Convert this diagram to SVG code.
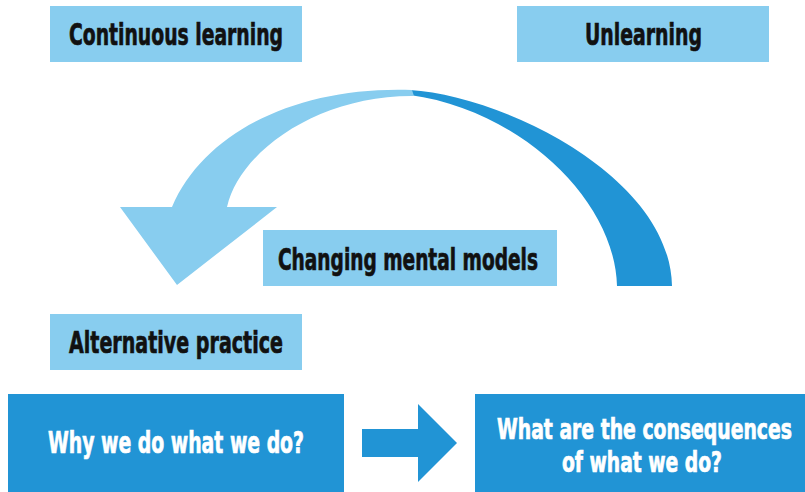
<svg xmlns="http://www.w3.org/2000/svg" width="805" height="492" viewBox="0 0 805 492">
<style>
.lb{fill:#88CDEF}
.db{fill:#2194D5}
.t{font-family:"Liberation Sans Narrow","DejaVu Sans Condensed","Liberation Sans",sans-serif;font-weight:bold;font-size:31px;font-stretch:condensed;stroke-width:0.7}
.s{font-size:28px}
.k{fill:#111111;stroke:#111111}
.w{fill:#FFFFFF;stroke:#FFFFFF}
</style>
<rect width="805" height="492" fill="#FFFFFF"/>
<g id="continuous-learning">
<rect class="lb" x="50" y="6" width="252" height="56"/>
<text class="t k" x="69" y="45" textLength="214" lengthAdjust="spacingAndGlyphs">Continuous learning</text>
</g>
<g id="unlearning">
<rect class="lb" x="517" y="6" width="252" height="56"/>
<text class="t k" x="585" y="45" textLength="117" lengthAdjust="spacingAndGlyphs">Unlearning</text>
</g>
<g id="changing-mental-models">
<rect class="lb" x="263" y="230" width="294" height="56"/>
<text class="t k" x="278" y="270" textLength="260" lengthAdjust="spacingAndGlyphs">Changing mental models</text>
</g>
<g id="alternative-practice">
<rect class="lb" x="50" y="314" width="252" height="56"/>
<text class="t k" x="69" y="353" textLength="214" lengthAdjust="spacingAndGlyphs">Alternative practice</text>
</g>
<g id="why">
<rect class="db" x="8" y="394" width="336" height="98"/>
<text class="t w" x="48" y="453" textLength="256" lengthAdjust="spacingAndGlyphs">Why we do what we do?</text>
</g>
<g id="consequences">
<rect class="db" x="475" y="394" width="330" height="98"/>
<text class="t s w" x="497" y="439" textLength="295" lengthAdjust="spacingAndGlyphs">What are the consequences</text>
<text class="t s w" x="562" y="472" textLength="160" lengthAdjust="spacingAndGlyphs">of what we do?</text>
</g>
<g id="connectors">
<path class="db" d="M410,90 C500,95 670,175 672,286 L617,286 C615,200 520,110 410,95 Z"/>
<path class="lb" d="M412,90 C300,86 205,130 172,207 L120,207 L177,285 L277,207 L227,207 C240,150 320,95 414,96 Z"/>
<path class="db" d="M362,429 L418,429 L418,404 L457,443 L418,482 L418,457 L362,457 Z"/>
</g>
</svg>
